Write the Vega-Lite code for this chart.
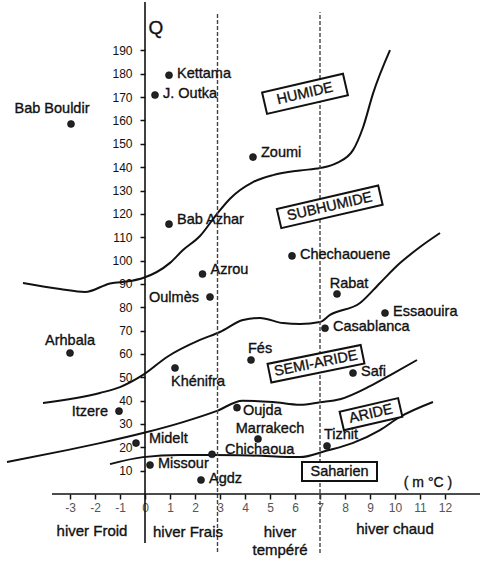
{
  "$schema": "https://vega.github.io/schema/vega-lite/v6.json",
  "width": 488,
  "height": 563,
  "autosize": {"type": "none"},
  "padding": 0,
  "background": "white",
  "config": {
    "view": {"stroke": null},
    "font": "Liberation Sans",
    "text": {"stroke": "#111", "strokeWidth": 0.35, "fill": "#111"}
  },
  "datasets": {
    "stations": [
      {"name": "Kettama", "x": 0.96, "Q": 179.4, "pos": "r"},
      {"name": "J. Outka", "x": 0.4, "Q": 170.9, "pos": "r"},
      {"name": "Bab Bouldir", "x": -2.96, "Q": 158.5, "pos": "tl"},
      {"name": "Bab Azhar", "x": 0.96, "Q": 115.6, "pos": "ru"},
      {"name": "Zoumi", "x": 4.32, "Q": 144.3, "pos": "ru"},
      {"name": "Chechaouene", "x": 5.88, "Q": 102, "pos": "r"},
      {"name": "Azrou", "x": 2.3, "Q": 94.2, "pos": "ru"},
      {"name": "Oulmès", "x": 2.6, "Q": 84.4, "pos": "l"},
      {"name": "Arhbala", "x": -3, "Q": 60.4, "pos": "t"},
      {"name": "Khénifra", "x": 1.2, "Q": 54, "pos": "b"},
      {"name": "Itzere", "x": -1.04, "Q": 35.5, "pos": "l"},
      {"name": "Midelt", "x": -0.36, "Q": 21.8, "pos": "r2"},
      {"name": "Missour", "x": 0.2, "Q": 12.4, "pos": "r"},
      {"name": "Agdz", "x": 2.24, "Q": 6, "pos": "r"},
      {"name": "Chichaoua", "x": 2.68, "Q": 17, "pos": "r2"},
      {"name": "Oujda", "x": 3.68, "Q": 37, "pos": "rd"},
      {"name": "Marrakech", "x": 4.52, "Q": 23.6, "pos": "tc"},
      {"name": "Fés", "x": 4.24, "Q": 57.4, "pos": "ta"},
      {"name": "Rabat", "x": 7.68, "Q": 85.7, "pos": "tc"},
      {"name": "Essaouira", "x": 9.6, "Q": 77.5, "pos": "r"},
      {"name": "Casablanca", "x": 7.2, "Q": 71, "pos": "r"},
      {"name": "Safi", "x": 8.32, "Q": 51.8, "pos": "r"},
      {"name": "Tiznit", "x": 7.28, "Q": 20.6, "pos": "ta"}
    ],
    "curves": [
      {"c": 1, "x": -4.88, "Q": 90.4}, {"c": 1, "x": -3.4, "Q": 87.8}, {"c": 1, "x": -2.4, "Q": 86.5},
      {"c": 1, "x": -1.4, "Q": 90.2}, {"c": 1, "x": -0.6, "Q": 91.2}, {"c": 1, "x": -0.08, "Q": 92.5},
      {"c": 1, "x": 1.0, "Q": 99}, {"c": 1, "x": 1.52, "Q": 104.5}, {"c": 1, "x": 2.2, "Q": 110.5},
      {"c": 1, "x": 2.88, "Q": 120}, {"c": 1, "x": 3.4, "Q": 126.5}, {"c": 1, "x": 4.32, "Q": 133.6},
      {"c": 1, "x": 5.12, "Q": 136.6}, {"c": 1, "x": 6.2, "Q": 138.6}, {"c": 1, "x": 7.0, "Q": 139.6},
      {"c": 1, "x": 7.68, "Q": 141.8}, {"c": 1, "x": 8.32, "Q": 147.3}, {"c": 1, "x": 8.72, "Q": 157},
      {"c": 1, "x": 9.12, "Q": 171.5}, {"c": 1, "x": 9.8, "Q": 190.1},
      {"c": 2, "x": -4.08, "Q": 39.0}, {"c": 2, "x": -1.8, "Q": 43.3}, {"c": 2, "x": -1.0, "Q": 45.8},
      {"c": 2, "x": -0.08, "Q": 51.0}, {"c": 2, "x": 0.88, "Q": 58.7}, {"c": 2, "x": 2.2, "Q": 66.0},
      {"c": 2, "x": 3.0, "Q": 69.4}, {"c": 2, "x": 3.92, "Q": 74.5}, {"c": 2, "x": 4.6, "Q": 75.4},
      {"c": 2, "x": 5.52, "Q": 73.2}, {"c": 2, "x": 6.2, "Q": 72.8}, {"c": 2, "x": 7.0, "Q": 73.7},
      {"c": 2, "x": 7.4, "Q": 76.7}, {"c": 2, "x": 8.6, "Q": 81.8}, {"c": 2, "x": 9.4, "Q": 90.4},
      {"c": 2, "x": 10.2, "Q": 98.9}, {"c": 2, "x": 11.0, "Q": 105.8}, {"c": 2, "x": 11.8, "Q": 111.8},
      {"c": 3, "x": -5.52, "Q": 13.7}, {"c": 3, "x": -3.12, "Q": 18.8}, {"c": 3, "x": -1.8, "Q": 21.8},
      {"c": 3, "x": -0.08, "Q": 26.1}, {"c": 3, "x": 1.52, "Q": 30.8}, {"c": 3, "x": 2.88, "Q": 35.6},
      {"c": 3, "x": 3.9, "Q": 40.0}, {"c": 3, "x": 5.12, "Q": 39.4}, {"c": 3, "x": 6.2, "Q": 38.2},
      {"c": 3, "x": 7.0, "Q": 39.3}, {"c": 3, "x": 7.8, "Q": 40.6}, {"c": 3, "x": 9.0, "Q": 46.2},
      {"c": 3, "x": 9.9, "Q": 51.5}, {"c": 3, "x": 10.88, "Q": 57.4},
      {"c": 4, "x": -1.4, "Q": 12.8}, {"c": 4, "x": -0.08, "Q": 15.8}, {"c": 4, "x": 1.4, "Q": 16.7},
      {"c": 4, "x": 2.72, "Q": 16.7}, {"c": 4, "x": 4.2, "Q": 16.5}, {"c": 4, "x": 6.2, "Q": 15.8},
      {"c": 4, "x": 7.28, "Q": 18.6}, {"c": 4, "x": 8.3, "Q": 21.8}, {"c": 4, "x": 9.4, "Q": 27.4},
      {"c": 4, "x": 10.2, "Q": 33.0}, {"c": 4, "x": 11.52, "Q": 39.4}
    ],
    "zones": [
      {"name": "HUMIDE", "x": 6.4, "Q": 171.4},
      {"name": "SUBHUMIDE", "x": 7.39, "Q": 123.0},
      {"name": "SEMI-ARIDE", "x": 6.84, "Q": 55.8},
      {"name": "ARIDE", "x": 9.04, "Q": 34.2},
      {"name": "Saharien", "x": 7.78, "Q": 9.6}
    ],
    "winters": [
      {"text": "hiver Froid", "x": -2.12, "Q": -15.8},
      {"text": "hiver Frais", "x": 1.72, "Q": -16.3},
      {"text": "hiver", "x": 5.4, "Q": -16.3},
      {"text": "tempéré", "x": 5.4, "Q": -24.0},
      {"text": "hiver chaud", "x": 10.0, "Q": -15.0}
    ]
  },
  "encoding": {
    "x": {
      "field": "x", "type": "quantitative",
      "scale": {"domain": [-5.8, 13.72], "nice": false, "zero": false},
      "axis": {
        "orient": "bottom", "offset": -69, "values": [-3, -2, -1, 0, 1, 2, 3, 4, 5, 6, 7, 8, 9, 10, 11, 12],
        "labelExpr": "replace(datum.label, '−', '-')",
        "domain": false, "grid": false, "tickSize": 5, "tickWidth": 1.5, "tickColor": "#111",
        "labelFontSize": 12, "labelColor": "#555", "labelPadding": 3, "title": null, "labelFlush": false, "labelOverlap": false
      }
    },
    "y": {
      "field": "Q", "type": "quantitative",
      "scale": {"domain": [-29.55, 211.6], "nice": false, "zero": false},
      "axis": {
        "orient": "left", "offset": -145, "values": [10, 20, 30, 40, 50, 60, 70, 80, 90, 100, 110, 120, 130, 140, 150, 160, 170, 180, 190],
        "domain": false, "grid": false, "tickSize": 5, "tickWidth": 1.5, "tickColor": "#111",
        "labelFontSize": 12, "labelColor": "#111", "labelPadding": 8, "title": null, "labelFlush": false, "labelOverlap": false
      }
    }
  },
  "layer": [
    {
      "data": {"name": "curves"},
      "mark": {"type": "line", "interpolate": "monotone", "stroke": "#111", "strokeWidth": 2},
      "encoding": {"detail": {"field": "c"}}
    },
    {
      "data": {"values": [{"x": 2.9, "Q": -24.8, "Q2": 206.3}, {"x": 7.0, "Q": -25.3, "Q2": 206.3}]},
      "mark": {"type": "rule", "stroke": "#444", "strokeWidth": 1.4, "strokeDash": [4, 2]},
      "encoding": {"y2": {"field": "Q2"}}
    },
    {
      "data": {"values": [{"x": 0, "Q": -21, "Q2": 210.7}]},
      "mark": {"type": "rule", "stroke": "#111", "strokeWidth": 1.6},
      "encoding": {"y2": {"field": "Q2"}}
    },
    {
      "data": {"values": [{"x": -3.72, "x2": 13.4, "Q": 0}]},
      "mark": {"type": "rule", "stroke": "#111", "strokeWidth": 1.6},
      "encoding": {"x2": {"field": "x2"}}
    },
    {
      "data": {"name": "zones"}, "transform": [{"filter": "datum.name === 'HUMIDE'"}],
      "mark": {"type": "point", "shape": "M-1,-0.265H1V0.265H-1Z", "size": 6889, "angle": -13, "filled": false, "fill": "white", "fillOpacity": 1, "stroke": "#111", "strokeWidth": 2, "opacity": 1}
    },
    {
      "data": {"name": "zones"}, "transform": [{"filter": "datum.name === 'SUBHUMIDE'"}],
      "mark": {"type": "point", "shape": "M-1,-0.19H1V0.19H-1Z", "size": 10816, "angle": -13, "filled": false, "fill": "white", "fillOpacity": 1, "stroke": "#111", "strokeWidth": 2, "opacity": 1}
    },
    {
      "data": {"name": "zones"}, "transform": [{"filter": "datum.name === 'SEMI-ARIDE'"}],
      "mark": {"type": "point", "shape": "M-1,-0.2H1V0.2H-1Z", "size": 9025, "angle": -11.5, "filled": false, "fill": "white", "fillOpacity": 1, "stroke": "#111", "strokeWidth": 2, "opacity": 1}
    },
    {
      "data": {"name": "zones"}, "transform": [{"filter": "datum.name === 'ARIDE'"}],
      "mark": {"type": "point", "shape": "M-1,-0.317H1V0.317H-1Z", "size": 3600, "angle": -13, "filled": false, "fill": "white", "fillOpacity": 1, "stroke": "#111", "strokeWidth": 2, "opacity": 1}
    },
    {
      "data": {"name": "zones"}, "transform": [{"filter": "datum.name === 'Saharien'"}],
      "mark": {"type": "point", "shape": "M-1,-0.253H1V0.253H-1Z", "size": 5625, "angle": 0, "filled": false, "fill": "white", "fillOpacity": 1, "stroke": "#111", "strokeWidth": 2, "opacity": 1}
    },
    {
      "data": {"name": "zones"}, "transform": [{"filter": "datum.name === 'HUMIDE' || datum.name === 'SUBHUMIDE' || datum.name === 'ARIDE'"}],
      "mark": {"type": "text", "angle": -13, "align": "center", "baseline": "middle", "fontSize": 14.5},
      "encoding": {"text": {"field": "name"}}
    },
    {
      "data": {"name": "zones"}, "transform": [{"filter": "datum.name === 'SEMI-ARIDE'"}],
      "mark": {"type": "text", "angle": -11.5, "align": "center", "baseline": "middle", "fontSize": 14.5},
      "encoding": {"text": {"field": "name"}}
    },
    {
      "data": {"name": "zones"}, "transform": [{"filter": "datum.name === 'Saharien'"}],
      "mark": {"type": "text", "align": "center", "baseline": "middle", "fontSize": 14.5},
      "encoding": {"text": {"field": "name"}}
    },
    {
      "data": {"name": "stations"},
      "mark": {"type": "circle", "size": 50, "fill": "#222", "opacity": 1, "stroke": "#000", "strokeWidth": 0.5}
    },
    {
      "data": {"name": "stations"}, "transform": [{"filter": "datum.pos === 'r'"}],
      "mark": {"type": "text", "align": "left", "baseline": "middle", "dx": 8, "dy": -1, "fontSize": 14.5},
      "encoding": {"text": {"field": "name"}}
    },
    {
      "data": {"name": "stations"}, "transform": [{"filter": "datum.pos === 'ru'"}],
      "mark": {"type": "text", "align": "left", "baseline": "middle", "dx": 8, "dy": -4, "fontSize": 14.5},
      "encoding": {"text": {"field": "name"}}
    },
    {
      "data": {"name": "stations"}, "transform": [{"filter": "datum.pos === 'rd'"}],
      "mark": {"type": "text", "align": "left", "baseline": "middle", "dx": 6, "dy": 3, "fontSize": 14.5},
      "encoding": {"text": {"field": "name"}}
    },
    {
      "data": {"name": "stations"}, "transform": [{"filter": "datum.pos === 'r2'"}],
      "mark": {"type": "text", "align": "left", "baseline": "middle", "dx": 13, "dy": -4, "fontSize": 14.5},
      "encoding": {"text": {"field": "name"}}
    },
    {
      "data": {"name": "stations"}, "transform": [{"filter": "datum.pos === 'l'"}],
      "mark": {"type": "text", "align": "right", "baseline": "middle", "dx": -11, "dy": 1, "fontSize": 14.5},
      "encoding": {"text": {"field": "name"}}
    },
    {
      "data": {"name": "stations"}, "transform": [{"filter": "datum.pos === 't'"}],
      "mark": {"type": "text", "align": "center", "baseline": "middle", "dx": 0, "dy": -12, "fontSize": 14.5},
      "encoding": {"text": {"field": "name"}}
    },
    {
      "data": {"name": "stations"}, "transform": [{"filter": "datum.pos === 'tc'"}],
      "mark": {"type": "text", "align": "center", "baseline": "middle", "dx": 12, "dy": -10, "fontSize": 14.5},
      "encoding": {"text": {"field": "name"}}
    },
    {
      "data": {"name": "stations"}, "transform": [{"filter": "datum.pos === 'ta'"}],
      "mark": {"type": "text", "align": "left", "baseline": "middle", "dx": -3, "dy": -11, "fontSize": 14.5},
      "encoding": {"text": {"field": "name"}}
    },
    {
      "data": {"name": "stations"}, "transform": [{"filter": "datum.pos === 'b'"}],
      "mark": {"type": "text", "align": "left", "baseline": "middle", "dx": -4, "dy": 14, "fontSize": 14.5},
      "encoding": {"text": {"field": "name"}}
    },
    {
      "data": {"name": "stations"}, "transform": [{"filter": "datum.pos === 'tl'"}],
      "mark": {"type": "text", "align": "center", "baseline": "middle", "dx": -19, "dy": -15, "fontSize": 14.5},
      "encoding": {"text": {"field": "name"}}
    },
    {
      "data": {"name": "winters"},
      "mark": {"type": "text", "align": "center", "baseline": "middle", "fontSize": 15},
      "encoding": {"text": {"field": "text"}}
    },
    {
      "data": {"values": [{"text": "Q", "x": 0.44, "Q": 199.6}]},
      "mark": {"type": "text", "align": "center", "baseline": "middle", "fontSize": 19},
      "encoding": {"text": {"field": "text"}}
    },
    {
      "data": {"values": [{"text": "( m °C )", "x": 11.32, "Q": 4.7}]},
      "mark": {"type": "text", "align": "center", "baseline": "middle", "fontSize": 14},
      "encoding": {"text": {"field": "text"}}
    }
  ]
}
